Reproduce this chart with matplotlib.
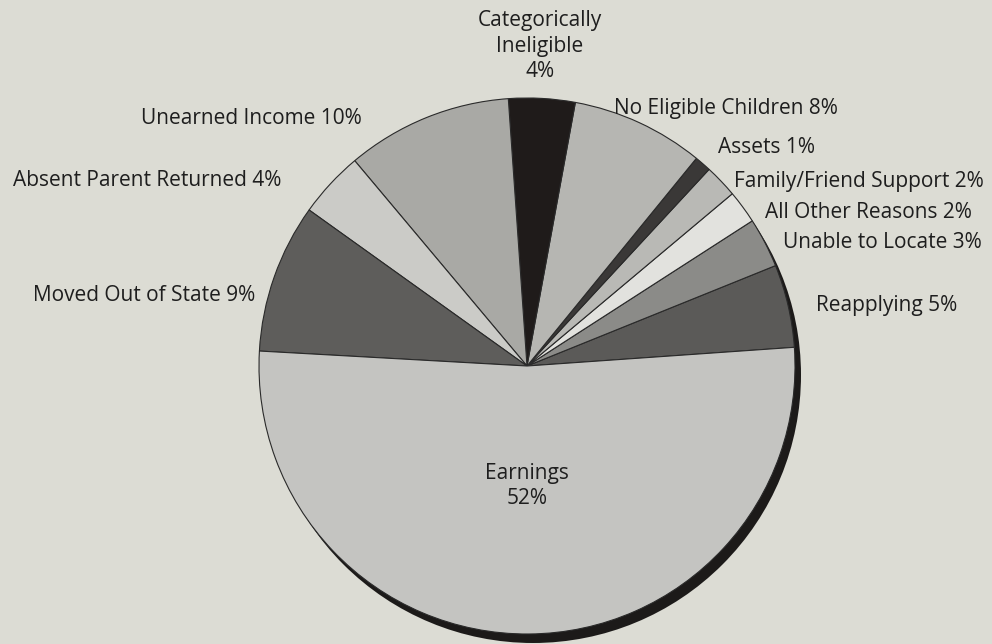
import matplotlib.pyplot as plt
from matplotlib.patches import Circle

# === DATA (counterclockwise from the right, just above horizontal) ===
labels = ["Reapplying", "Unable to Locate", "All Other Reasons", "Family/Friend Support",
          "Assets", "No Eligible Children", "Categorically Ineligible", "Unearned Income",
          "Absent Parent Returned", "Moved Out of State", "Earnings"]
shares = [5, 3, 2, 2, 1, 8, 4, 10, 4, 9, 52]
colors = ["#5b5a58", "#8b8b88", "#e2e2de", "#b9b9b5", "#3a3837", "#b6b6b2",
          "#1f1b1a", "#a9a9a5", "#cbcbc7", "#5e5d5b", "#c4c4c1"]

# label text and position in image pixels (x, y from top)
label_text = ["Reapplying 5%", "Unable to Locate 3%", "All Other Reasons 2%",
              "Family/Friend Support 2%", "Assets 1%", "No Eligible Children 8%",
              "Categorically\nIneligible\n4%", "Unearned Income 10%",
              "Absent Parent Returned 4%", "Moved Out of State 9%", "Earnings\n52%"]
label_xy = [(887, 305), (882, 242), (868, 212), (859, 181), (766, 147), (726, 108),
            (540, 46), (251, 118), (147, 180), (144, 295), (527, 486)]

W, H = 992, 644
BG = "#dcdcd4"
CX, CY, R = 527, 366, 268

plt.rcParams['font.family'] = ['Open Sans', 'DejaVu Sans']

fig = plt.figure(figsize=(W / 100, H / 100), dpi=100, facecolor=BG)
ax = fig.add_axes([0, 0, 1, 1])
ax.set_facecolor(BG)

# dark rim / shadow behind the pie
ax.add_patch(Circle((CX + 6, H - CY - 9), R, facecolor="#1c1a19", edgecolor="none", zorder=0))

ax.pie(shares, colors=colors, startangle=4, counterclock=True,
       center=(CX, H - CY), radius=R, frame=True,
       wedgeprops=dict(edgecolor="#2a2a2a", linewidth=0.8))

for txt, (x, y) in zip(label_text, label_xy):
    ax.text(x, H - y, txt, ha="center", va="center", fontsize=15,
            color="#1e1e1e", linespacing=1.3)

ax.set_xlim(0, W)
ax.set_ylim(0, H)
ax.set_aspect("equal")
ax.axis("off")

fig.savefig("out.png", dpi=100, facecolor=BG)
